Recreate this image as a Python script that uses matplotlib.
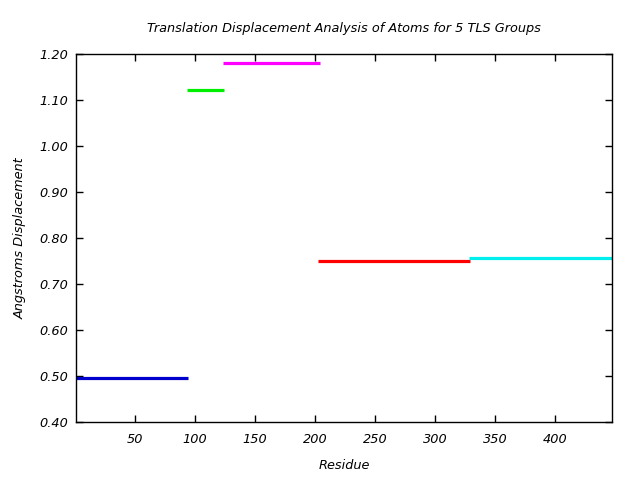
import matplotlib
matplotlib.use('Agg')
import matplotlib.pyplot as plt

# TLS group segments: residue start, residue end, displacement
seg_start = [1, 93, 123, 202, 328]
seg_end = [94, 124, 204, 329, 447]
displacement = [0.495, 1.121, 1.180, 0.749, 0.756]
colors = ['#0000cc', '#00ee00', '#ff00ff', '#ff0000', '#00eeee']

xticks = [50, 100, 150, 200, 250, 300, 350, 400]
yticks = [0.40, 0.50, 0.60, 0.70, 0.80, 0.90, 1.00, 1.10, 1.20]

fig = plt.figure(figsize=(6.4, 4.8), dpi=100)
ax = fig.add_axes([0.119, 0.121, 0.837, 0.767])

for s, e, d, c in zip(seg_start, seg_end, displacement, colors):
    ax.hlines(d, s, e, colors=c, linewidth=2.3)

ax.set_xlim(1, 447)
ax.set_ylim(0.40, 1.20)
ax.set_xticks(xticks)
ax.set_yticks(yticks)
ax.set_yticklabels(['%.2f' % v for v in yticks])

font = dict(family='DejaVu Sans', style='italic', size=9.3)
for lab in ax.get_xticklabels() + ax.get_yticklabels():
    lab.set_fontstyle('italic')
    lab.set_fontsize(9.3)

ax.tick_params(axis='y', direction='in', left=True, right=True, length=5, width=1, pad=6)
ax.tick_params(axis='x', direction='in', top=True, bottom=True, length=5, width=1, pad=8)
for sp in ax.spines.values():
    sp.set_linewidth(1)

ax.set_xlabel('Residue', fontdict=font, labelpad=9)
ax.set_ylabel('Angstroms Displacement', fontdict=font, labelpad=9)
ax.set_title('Translation Displacement Analysis of Atoms for 5 TLS Groups', fontdict=font, pad=16)

fig.savefig('out.png', dpi=100)
